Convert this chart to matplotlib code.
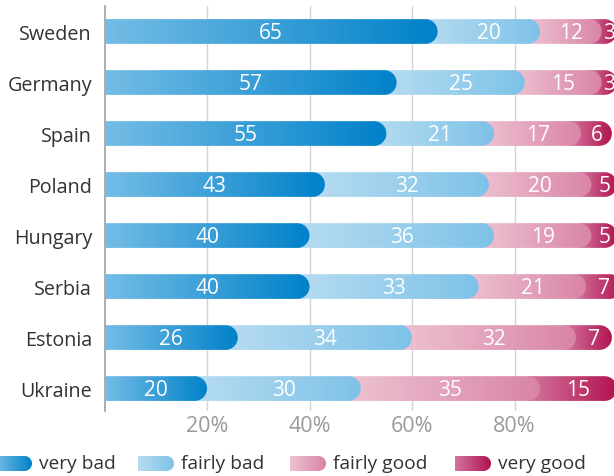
import numpy as np
import matplotlib.pyplot as plt
from matplotlib.path import Path
from matplotlib.patches import PathPatch
from matplotlib.colors import LinearSegmentedColormap

plt.rcParams['font.family'] = ['Open Sans', 'DejaVu Sans']

countries = ['Sweden', 'Germany', 'Spain', 'Poland', 'Hungary', 'Serbia', 'Estonia', 'Ukraine']
very_bad = [65, 57, 55, 43, 40, 40, 26, 20]
fairly_bad = [20, 25, 21, 32, 36, 33, 34, 30]
fairly_good = [12, 15, 17, 20, 19, 21, 32, 35]
very_good = [3, 3, 6, 5, 5, 7, 7, 15]
series_names = ['very bad', 'fairly bad', 'fairly good', 'very good']
grad_colors = [('#74bde6', '#0081c9'),
               ('#b6dcf1', '#7ec2e8'),
               ('#edc2d2', '#d984a6'),
               ('#d3769e', '#b0124f')]
ticks = [20, 40, 60, 80]

fig = plt.figure(figsize=(6.14, 4.77), dpi=100)
ax = fig.add_axes([104.5 / 614, 65 / 477, 512.5 / 614, 405 / 477])

bar_h = 0.485
nrows = len(countries)
fw, fh = fig.get_size_inches() * fig.dpi
px_x = ax.get_position().width * fw / 100
px_y = ax.get_position().height * fh / (nrows - 0.06)


def capsule(a, x0, x1, yc, h, rx, c0, c1, z):
    # bar piece with a rounded right end, filled with a left-to-right gradient
    ry = h / 2
    t = np.linspace(-np.pi / 2, np.pi / 2, 30)
    xs = [x0] + list(x1 - rx + rx * np.cos(t)) + [x0]
    ys = [yc - ry] + list(yc + ry * np.sin(t)) + [yc + ry]
    verts = list(zip(xs, ys)) + [(x0, yc - ry)]
    codes = [Path.MOVETO] + [Path.LINETO] * (len(verts) - 2) + [Path.CLOSEPOLY]
    patch = PathPatch(Path(verts, codes), facecolor='none', edgecolor='none', zorder=z)
    a.add_patch(patch)
    cmap = LinearSegmentedColormap.from_list('g', [c0, c1])
    grad = np.linspace(0, 1, 256).reshape(1, -1)
    im = a.imshow(grad, cmap=cmap, aspect='auto', extent=[x0, x1, yc - ry, yc + ry],
                  zorder=z, interpolation='bilinear')
    im.set_clip_path(patch)


data = np.array([very_bad, fairly_bad, fairly_good, very_good])
rx = (bar_h / 2) * px_y / px_x
for i in range(nrows):
    cum = np.concatenate([[0], np.cumsum(data[:, i])])
    for k in range(3, -1, -1):
        x0 = cum[k] - rx if k > 0 else 0
        capsule(ax, x0, cum[k + 1], i, bar_h, rx, *grad_colors[k], z=3 + (3 - k))
        ax.text((cum[k] + cum[k + 1]) / 2, i + 0.02, str(data[k, i]), color='white',
                ha='center', va='center', fontsize=15, zorder=10)

ax.set_xlim(0, 100)
ax.set_ylim(nrows - 0.56, -0.5)
ax.set_yticks(range(nrows))
ax.set_yticklabels(countries, fontsize=14.2, color='#333333')
ax.set_xticks(ticks)
ax.set_xticklabels([f'{t}%' for t in ticks], fontsize=15.5, color='#9a9a9a')
ax.tick_params(length=0, pad=3)
ax.tick_params(axis='y', pad=9)
ax.grid(axis='x', color='#d4d4d4', linewidth=1, zorder=0)
ax.set_axisbelow(True)
for s in ['top', 'right', 'bottom']:
    ax.spines[s].set_visible(False)
ax.spines['left'].set_color('#a0a0a0')
ax.spines['left'].set_linewidth(1.2)

# legend row along the bottom
lax = fig.add_axes([0, 0, 1, 26 / 477])
lax.axis('off')
legend_x = [-4, 138, 290, 455]
for k, name in enumerate(series_names):
    x = legend_x[k]
    capsule(lax, x, x + 36, 12.5, 15, 7.5, *grad_colors[k], z=2)
    lax.text(x + 43, 13, name, fontsize=13.8, color='#333333', va='center', ha='left')
lax.set_xlim(0, 614)
lax.set_ylim(0, 26)

fig.savefig('out.png', dpi=100)
